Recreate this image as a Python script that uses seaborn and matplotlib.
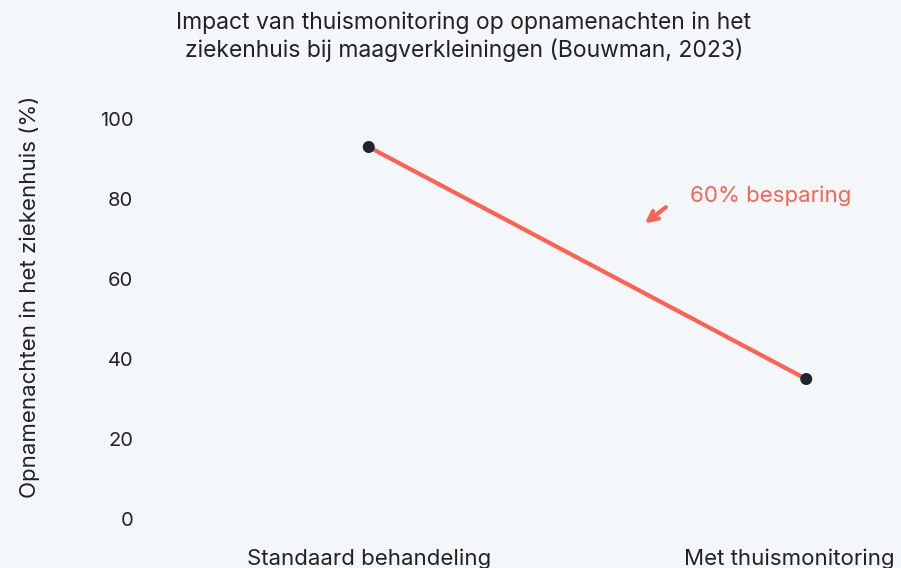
import pandas as pd
import seaborn as sns
import matplotlib.pyplot as plt
from matplotlib.transforms import ScaledTranslation

# Gegevens
behandeling = ['Standaard behandeling', 'Met thuismonitoring']
opnamenachten = [93, 35]
y_ticks = [0, 20, 40, 60, 80, 100]

df = pd.DataFrame({'Behandeling': behandeling, 'Opnamenachten': opnamenachten})

bg = '#f4f7fa'
rood = '#ff6150'
donker = '#1f2430'

sns.set_theme(style='white')
plt.rcParams['font.family'] = ['Inter', 'DejaVu Sans']

fig = plt.figure(figsize=(9.01, 5.68), dpi=100, facecolor=bg)
ax = fig.add_axes([150 / 901, 1 - 519 / 568, 875 / 901, 444 / 568], facecolor=bg)

sns.lineplot(data=df, x='Behandeling', y='Opnamenachten', color=rood,
             linewidth=3, ax=ax, sort=False)
sns.scatterplot(data=df, x='Behandeling', y='Opnamenachten', color=donker,
                s=75, zorder=3, edgecolor='none', ax=ax)

ax.set_xlim(-0.5, 1.5)
ax.set_ylim(0, 111)
ax.set_yticks(y_ticks)
ax.tick_params(axis='y', length=0, labelsize=14.5, colors='#222222', pad=12)
ax.tick_params(axis='x', length=0, labelsize=16, colors='#222222', pad=21)
ax.set_xlabel('')
ax.set_ylabel('Opnamenachten in het ziekenhuis (%)', fontsize=16, color='#222222')
ax.yaxis.set_label_coords(-0.126, 0.5)

# laatste label iets naar links zodat het binnen de figuur valt
lbl = ax.get_xticklabels()[-1]
lbl.set_transform(lbl.get_transform() + ScaledTranslation(-0.17, 0, fig.dpi_scale_trans))

ax.annotate('', xy=(0.563, 0.662), xytext=(0.592, 0.706), xycoords='axes fraction',
            arrowprops=dict(arrowstyle='->', color=rood, lw=3, mutation_scale=17))
ax.annotate('60% besparing', xy=(690 / 901, 1 - 196 / 568), xycoords='figure fraction',
            color=rood, fontsize=16, va='center', ha='left')

fig.suptitle('Impact van thuismonitoring op opnamenachten in het\n'
             'ziekenhuis bij maagverkleiningen (Bouwman, 2023)',
             x=464 / 901, y=1 - 11 / 568, va='top', fontsize=16.5, color='#222222',
             linespacing=1.25)

sns.despine(left=True, bottom=True)

fig.savefig('out.png', dpi=100, facecolor=bg)
